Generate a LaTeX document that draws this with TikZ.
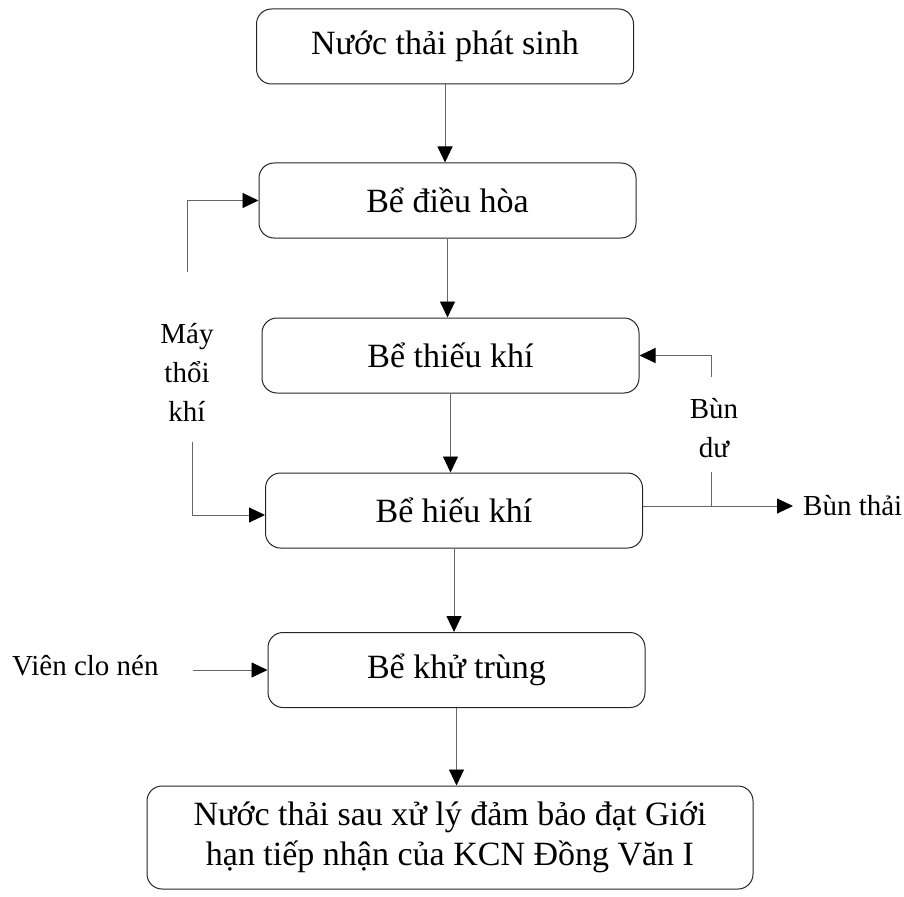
\documentclass[tikz,border=0pt]{standalone}
\usepackage{fontspec}
\setmainfont{Liberation Serif}
\usetikzlibrary{arrows.meta}

\tikzset{
  stage/.style={draw=black!85, line width=1pt, rounded corners=15pt,
    minimum width=377pt, minimum height=75pt, inner sep=0pt,
    font=\fontsize{34}{40}\selectfont, align=center},
  lbl/.style={inner sep=0pt, font=\fontsize{29}{39}\selectfont, align=center},
  link/.style={draw=black!60, line width=0.9pt},
  flow/.style={link, -{Triangle[length=16pt,width=15pt,color=black]}},
}

\begin{document}
\begin{tikzpicture}[x=1pt,y=-1pt]
  \useasboundingbox (0,0) rectangle (904,896);

  % main treatment line
  \node[stage] (src)  at (445,46.5)  {Nước thải phát sinh};
  \node[stage] (eq)   at (447.5,200.5) {Bể điều hòa};
  \node[stage] (anox) at (450.5,355.5) {Bể thiếu khí};
  \node[stage] (aero) at (454,510.5) {Bể hiếu khí};
  \node[stage] (dis)  at (456.5,670) {Bể khử trùng};
  \node[stage, minimum width=606pt, minimum height=103pt] (out) at (450,837.5)
    {Nước thải sau xử lý đảm bảo đạt Giới\\hạn tiếp nhận của KCN Đồng Văn I};

  \draw[flow] (src.south) -- (src.south |- eq.north);
  \draw[flow] (eq.south) -- (eq.south |- anox.north);
  \draw[flow] (anox.south) -- (anox.south |- aero.north);
  \draw[flow] (aero.south) -- (aero.south |- dis.north);
  \draw[flow] (dis.south) -- (dis.south |- out.north);

  % air blower
  \node[lbl] (air) at (187,372) {Máy\\thổi\\khí};
  \coordinate (airTop) at (187,272);
  \coordinate (airBot) at (192,442);
  \coordinate (aeroIn) at (265,515);
  \draw[flow] (airTop) |- (eq.west);
  \draw[flow] (airBot) |- (aeroIn);

  % sludge lines
  \coordinate (aeroOut) at (643,506);
  \coordinate (split) at (711,506);
  \coordinate (splitUp) at (711,472);
  \coordinate (retTop) at (711,377);
  \coordinate (wasteTip) at (793,506);
  \node[lbl] (sludge) at (714,428) {Bùn\\dư};
  \node[lbl, anchor=west] (waste) at (803,506) {Bùn thải};
  \draw[flow] (aeroOut) -- (wasteTip);
  \draw[link] (split) -- (splitUp);
  \draw[flow] (retTop) |- (anox.east);

  % chlorine dosing
  \node[lbl, anchor=west] (cl) at (12,666) {Viên clo nén};
  \coordinate (clIn) at (193,670);
  \draw[flow] (clIn) -- (dis.west);
\end{tikzpicture}
\end{document}
